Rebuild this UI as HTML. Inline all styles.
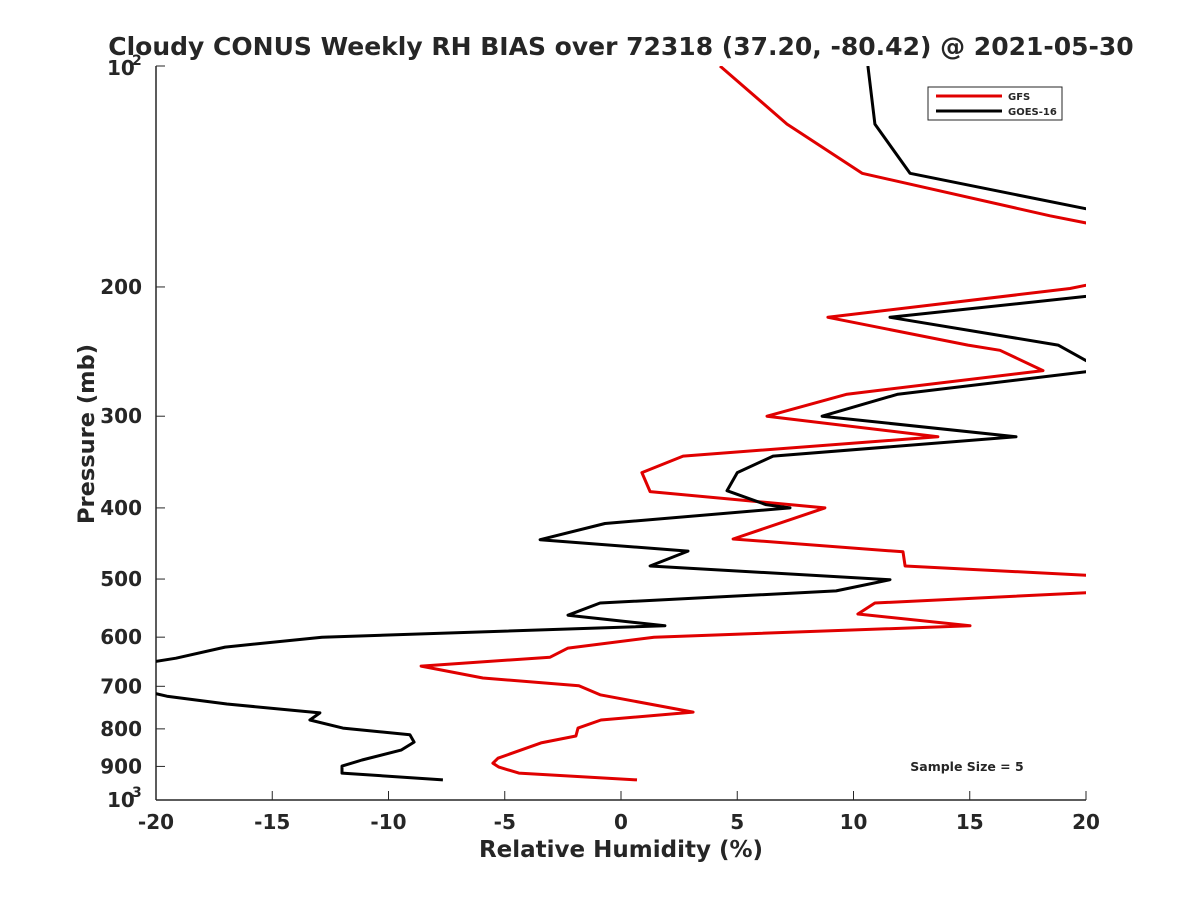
<!DOCTYPE html>
<html><head><meta charset="utf-8">
<style>
body{margin:0;background:#fff;}
svg text{font-family:"DejaVu Sans","Liberation Sans",sans-serif;font-weight:bold;fill:#262626;}
</style></head>
<body>
<svg width="1200" height="900" viewBox="0 0 1200 900">
<defs><clipPath id="clip"><rect x="156" y="66" width="930" height="734"/></clipPath></defs>
<text x="621" y="55" text-anchor="middle" font-size="25">Cloudy CONUS Weekly RH BIAS over 72318 (37.20, -80.42) @ 2021-05-30</text>
<g id="axes"></g>
<g id="series" clip-path="url(#clip)"></g>
<g>
<rect x="928" y="87" width="134" height="33" fill="#fff" stroke="#262626" stroke-width="1"/>
<line x1="936" y1="96" x2="1002" y2="96" stroke="#e00000" stroke-width="3"/>
<text x="1008" y="100" font-size="10">GFS</text>
<line x1="936" y1="111" x2="1002" y2="111" stroke="#000" stroke-width="3"/>
<text x="1008" y="115" font-size="10">GOES-16</text>
</g>
<text x="967" y="771" text-anchor="middle" font-size="12.5">Sample Size = 5</text>
<text x="621" y="857" text-anchor="middle" font-size="23">Relative Humidity (%)</text>
<text x="94" y="434" text-anchor="middle" font-size="22.5" transform="rotate(-90 94 434)">Pressure (mb)</text>
</svg>
<script>
const xTicks=[-20,-15,-10,-5,0,5,10,15,20];
const yTicks=[200,300,400,500,600,700,800,900];
const gfsP=[100,120,140,160,166,185,196,201,220,240,244,260,280,300,320,340,358,380,400,441,459,480,495,508,521,539,558,579,600,621,639,657,682,699,719,759,778,798,818,836,877,891,902,919,939];
const gfsRH=[4.26,7.14,10.37,18.45,21,24,21,19.31,8.9,14.92,16.3,18.15,9.72,6.28,13.63,2.67,0.9,1.25,8.77,4.82,12.13,12.22,20.5,24,20.5,10.92,10.19,15.01,1.42,-2.28,-3.05,-8.6,-5.94,-1.81,-0.9,3.1,-0.86,-1.85,-1.94,-3.44,-5.29,-5.51,-5.25,-4.39,0.69];
const goesP=[100,120,140,160,200,206,220,240,252,256,261,280,300,320,340,358,379,396,400,420,442,458,480,501,519,539,560,579,600,619,641,670,708,722,740,761,778,798,815,834,855,882,899,919,939];
const goesRH=[10.62,10.92,12.43,21.5,22,20,11.57,18.8,20,21,20,11.91,8.65,16.99,6.54,5.0,4.56,6.24,7.27,-0.69,-3.48,2.88,1.25,11.57,9.25,-0.9,-2.28,1.89,-12.86,-17.03,-19.14,-23,-20.69,-19.53,-16.95,-12.95,-13.38,-11.96,-9.08,-8.9,-9.46,-11.14,-12.0,-12.0,-7.66];
const X0=156,X1=1086,Y0=66,Y1=800;
const xs=v=>X0+(v+20)/40*(X1-X0);
const ys=p=>Y0+Math.log10(p/100)*(Y1-Y0);
const NS='http://www.w3.org/2000/svg';
function mk(t,a,parent){const e=document.createElementNS(NS,t);for(const k in a)e.setAttribute(k,a[k]);parent.appendChild(e);return e;}
const ax=document.getElementById('axes');
let l=mk('line',{x1:X0,y1:Y0,x2:X0,y2:Y1,stroke:'#262626','stroke-width':1.5},ax);


l=mk('line',{x1:X0,y1:Y1,x2:X1,y2:Y1,stroke:'#262626','stroke-width':1.5},ax);


xTicks.forEach(v=>{
 const x=xs(v);
 const t=mk('line',{x1:x,y1:Y1,x2:x,y2:Y1-9,stroke:'#262626','stroke-width':1},ax);
 
 
 const tx=mk('text',{x:x,y:Y1+29,'text-anchor':'middle','font-size':20},ax);
 tx.textContent=v;
 
 
});
[100,1000].concat(yTicks).forEach(p=>{
 const y=ys(p);
 const t=mk('line',{x1:X0,y1:y,x2:X0+9,y2:y,stroke:'#262626','stroke-width':1},ax);
 
 
});
yTicks.forEach(p=>{
 const tx=mk('text',{x:X0-14,y:ys(p)+7,'text-anchor':'end','font-size':20},ax);
 tx.textContent=p;
 
 
});
[[100,'2'],[1000,'3']].forEach(([p,e])=>{
 const tx=mk('text',{x:X0-49,y:ys(p)+(p==100?9:7),'font-size':20},ax);
 tx.textContent='10';
 
 
 const sp=mk('text',{x:X0-24,y:ys(p)+(p==100?-1:-3),'font-size':14},ax);
 sp.textContent=e;
 
 
});
const sg=document.getElementById('series');
function line(P,V,c,name){
 const pts=P.map((p,i)=>xs(V[i]).toFixed(1)+','+ys(p).toFixed(1)).join(' ');
 const e=mk('polyline',{points:pts,fill:'none',stroke:c,'stroke-width':3,'stroke-linejoin':'round'},sg);
 
 
}
line(gfsP,gfsRH,'#e00000','gfs-line');
line(goesP,goesRH,'#000000','goes16-line');
</script>
</body></html>
